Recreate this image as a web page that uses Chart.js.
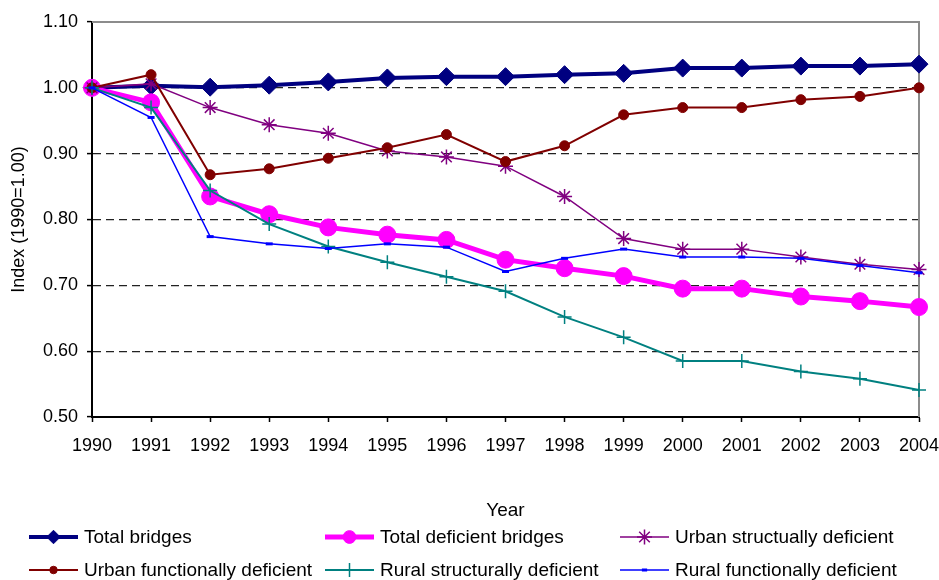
<!DOCTYPE html>
<html>
<head>
<meta charset="utf-8">
<title>Bridge index</title>
<script src="https://cdn.jsdelivr.net/npm/chart.js@4.4.1/dist/chart.umd.min.js"></script>
<style>
  body { margin: 0; background: #fff; }
  #wrap { width: 939px; height: 580px; }
</style>
</head>
<body>
<div id="wrap"><canvas id="bridgeChart" width="939" height="580"></canvas></div>
<script>
// x categories (also the x tick labels)
const years = ['1990', '1991', '1992', '1993', '1994', '1995', '1996', '1997',
  '1998', '1999', '2000', '2001', '2002', '2003', '2004'];

// series (index, 1990 = 1.00)
const totalBridges = [1.000, 1.003, 1.001, 1.004, 1.009, 1.015, 1.017, 1.017, 1.020, 1.022, 1.030, 1.030, 1.033, 1.033, 1.036];
const totalDeficient = [1.000, 0.978, 0.835, 0.808, 0.788, 0.777, 0.769, 0.739, 0.726, 0.714, 0.695, 0.695, 0.683, 0.676, 0.667];
const urbanStructural = [1.000, 1.006, 0.970, 0.944, 0.931, 0.904, 0.895, 0.881, 0.835, 0.771, 0.755, 0.755, 0.743, 0.732, 0.724];
const urbanFunctional = [1.000, 1.020, 0.868, 0.877, 0.893, 0.909, 0.929, 0.888, 0.912, 0.959, 0.970, 0.970, 0.982, 0.987, 1.000];
const ruralStructural = [1.000, 0.970, 0.844, 0.793, 0.759, 0.735, 0.713, 0.691, 0.652, 0.621, 0.585, 0.585, 0.569, 0.558, 0.541];
const ruralFunctional = [1.000, 0.955, 0.774, 0.763, 0.756, 0.763, 0.758, 0.721, 0.741, 0.755, 0.743, 0.743, 0.741, 0.730, 0.719];

const seriesNames = ['Total bridges', 'Total deficient bridges', 'Urban structually deficient',
  'Urban functionally deficient', 'Rural structurally deficient', 'Rural functionally deficient'];

// y axis range / tick step
const yMin = 0.5;
const yMax = 1.1;
const yStep = 0.1;

Chart.defaults.font.family = '"Liberation Sans", Arial, sans-serif';
Chart.defaults.color = '#000';

function series(i, data, color, style) {
  return Object.assign({
    label: seriesNames[i],
    data: data,
    borderColor: color,
    backgroundColor: color,
    pointBackgroundColor: color,
    pointBorderColor: color,
    tension: 0,
    fill: false,
    clip: false,
    order: 6 - i
  }, style);
}

// outline on top and right of the plot area
const frameLines = {
  id: 'frameLines',
  beforeDatasetsDraw(chart) {
    const a = chart.chartArea;
    const ctx = chart.ctx;
    ctx.save();
    ctx.strokeStyle = '#8c8c8c';
    ctx.lineWidth = 2;
    ctx.beginPath();
    ctx.moveTo(a.left, a.top);
    ctx.lineTo(a.right, a.top);
    ctx.lineTo(a.right, a.bottom);
    ctx.stroke();
    ctx.restore();
  }
};

// 3-column legend under the axis title
const gridLegend = {
  id: 'gridLegend',
  afterDraw(chart) {
    const ctx = chart.ctx;
    const colX = [29, 325, 620];
    const rowY = [537, 570];
    const lineLen = 49;
    chart.data.datasets.forEach((ds, i) => {
      const x0 = colX[i % 3];
      const y = rowY[Math.floor(i / 3)];
      ctx.save();
      ctx.strokeStyle = ds.borderColor;
      ctx.lineWidth = ds.borderWidth;
      ctx.beginPath();
      ctx.moveTo(x0, y);
      ctx.lineTo(x0 + lineLen, y);
      ctx.stroke();
      ctx.fillStyle = ds.pointBackgroundColor;
      ctx.strokeStyle = ds.pointBorderColor;
      ctx.lineWidth = ds.pointBorderWidth;
      const shrink = (ds.pointStyle === 'star' || ds.pointStyle === 'cross') ? 1 : 0.75;
      Chart.helpers.drawPoint(ctx, {
        pointStyle: ds.pointStyle,
        radius: ds.pointRadius * shrink,
        borderWidth: ds.pointBorderWidth,
        rotation: 0
      }, x0 + lineLen / 2, y);
      ctx.fillStyle = '#000';
      ctx.font = '19px "Liberation Sans", Arial, sans-serif';
      ctx.textBaseline = 'middle';
      ctx.fillText(ds.label, x0 + lineLen + 6, y + 1);
      ctx.restore();
    });
  }
};

const isEdge = v => Math.abs(v - yMax) < 1e-6 || Math.abs(v - yMin) < 1e-6;

new Chart(document.getElementById('bridgeChart'), {
  type: 'line',
  data: {
    labels: years,
    datasets: [
      series(0, totalBridges, '#000080', { borderWidth: 4, pointStyle: 'rectRot', pointRadius: 9, pointBorderWidth: 1 }),
      series(1, totalDeficient, '#ff00ff', { borderWidth: 5, pointStyle: 'circle', pointRadius: 8.5, pointBorderWidth: 1 }),
      series(2, urbanStructural, '#800080', { borderWidth: 1.5, pointStyle: 'star', pointRadius: 7.5, pointBorderWidth: 1.5 }),
      series(3, urbanFunctional, '#800000', { borderWidth: 2, pointStyle: 'circle', pointRadius: 5, pointBorderWidth: 1 }),
      series(4, ruralStructural, '#008080', { borderWidth: 2, pointStyle: 'cross', pointRadius: 7, pointBorderWidth: 1.5 }),
      series(5, ruralFunctional, '#0000ff', { borderWidth: 1.5, pointStyle: 'line', pointRadius: 3.5, pointBorderWidth: 3 })
    ]
  },
  options: {
    responsive: false,
    animation: false,
    events: [],
    layout: { padding: { top: 22, right: 20, left: 0, bottom: 58 } },
    plugins: {
      legend: { display: false },
      tooltip: { enabled: false }
    },
    scales: {
      x: {
        offset: false,
        grid: { drawOnChartArea: false, tickLength: 5, tickColor: '#000', tickWidth: 1.5 },
        border: { color: '#000', width: 2 },
        ticks: { font: { size: 18 }, padding: 13, maxRotation: 0, autoSkip: false },
        title: { display: true, text: 'Year', font: { size: 19 }, padding: { top: 0, bottom: 0 } },
        afterFit(scale) {
          scale.height = 105;
          scale.paddingLeft = 0;
          scale.paddingRight = 0;
        }
      },
      y: {
        min: yMin,
        max: yMax,
        ticks: {
          stepSize: yStep,
          font: { size: 18 },
          padding: 9,
          callback: v => Number(v).toFixed(2)
        },
        grid: {
          color: ctx => (ctx.tick && isEdge(ctx.tick.value)) ? 'rgba(0,0,0,0)' : '#222',
          lineWidth: 1.2,
          tickLength: 5,
          tickColor: '#000',
          tickWidth: 1.5,
          tickBorderDash: []
        },
        border: { color: '#000', width: 2, dash: [8, 5] },
        title: { display: true, text: 'Index (1990=1.00)', font: { size: 18 }, padding: { top: 8, bottom: 0 } },
        afterFit(scale) {
          scale.width = 92;
        }
      }
    }
  },
  plugins: [frameLines, gridLegend]
});
</script>
</body>
</html>
